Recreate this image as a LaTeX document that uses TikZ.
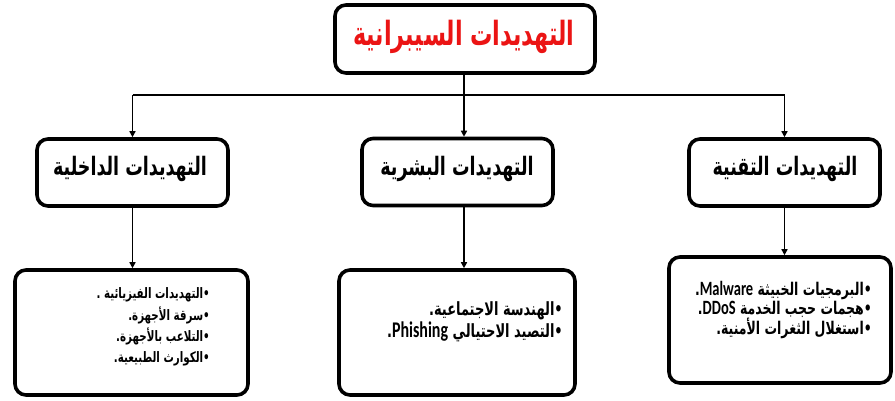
\documentclass[tikz,border=0pt]{standalone}
\usepackage{fontspec}
\usepackage{graphicx}
\TeXXeTstate=1
\newfontfamily\arabicfont[Script=Arabic]{DejaVu Sans}
\newfontfamily\latinfont{Carlito}
\usetikzlibrary{arrows.meta}
\definecolor{titlered}{RGB}{235,20,20}
\begin{document}
\begin{tikzpicture}[x=1pt,y=-1pt,
  box/.style={draw=black, line width=3.6pt, rounded corners=11pt, fill=white, inner sep=0pt},
  conn/.style={line width=1.8pt},
  arr/.style={line width=1.8pt, -{Triangle[width=6pt,length=6pt]}},
  ttl/.style={font=\arabicfont\bfseries\fontsize{23}{26}\selectfont, text=titlered, inner sep=0pt},
  sub/.style={font=\arabicfont\bfseries\fontsize{17.5}{20}\selectfont, inner sep=0pt},
  lst/.style={anchor=east, inner sep=0pt}]
\useasboundingbox (0,0) rectangle (895,400);
% boxes
\node[box, minimum width=260pt, minimum height=68pt] (top) at (465,39) {};
\node[box, minimum width=191pt, minimum height=67pt] (midL) at (132.5,172.5) {};
\node[box, minimum width=191pt, minimum height=67pt] (midC) at (457.5,172) {};
\node[box, minimum width=191pt, minimum height=67pt] (midR) at (784.5,172.5) {};
\node[box, minimum width=233pt, minimum height=125pt] (botL) at (131.5,332.5) {};
\node[box, minimum width=236pt, minimum height=125pt] (botC) at (457,332.5) {};
\node[box, minimum width=222pt, minimum height=126pt] (botR) at (780,320) {};
% titles
\node[ttl] (tTop) at (464,37) {\scalebox{0.97}[1.45]{\beginR التهديدات السيبرانية\endR}};
\node[sub] (tL) at (130,169) {\scalebox{1}[1.45]{\beginR التهديدات الداخلية\endR}};
\node[sub] (tC) at (457,169) {\scalebox{1}[1.45]{\beginR التهديدات البشرية\endR}};
\node[sub] (tR) at (785,169) {\scalebox{1}[1.45]{\beginR التهديدات التقنية\endR}};
% lists
\node[lst] (lL) at (210,327) {\scalebox{1}[1.4]{\arabicfont\bfseries\fontsize{10.3}{15}\selectfont
\vbox{\baselineskip=15.2pt \lineskiplimit=-100pt \lineskip=0pt
\halign{\hfil#\cr
\beginR •التهديدات الفيزيائية .\endR\cr
\beginR •سرقة الأجهزة.\endR\cr
\beginR •التلاعب بالأجهزة.\endR\cr
\beginR •الكوارث الطبيعية.\endR\cr}}}};
\node[lst] (lC) at (563,322) {\scalebox{1}[1.4]{\arabicfont\bfseries\fontsize{13}{15}\selectfont
\vbox{\baselineskip=15.7pt \lineskiplimit=-100pt \lineskip=0pt
\halign{\hfil#\cr
\beginR •الهندسة الاجتماعية.\endR\cr
\beginR •التصيد الاحتيالي \beginL{\latinfont\bfseries\fontsize{16}{15}\selectfont Phishing}\endL.\endR\cr}}}};
\node[lst] (lR) at (872,310) {\scalebox{1}[1.4]{\arabicfont\bfseries\fontsize{12.5}{14}\selectfont
\vbox{\baselineskip=13.6pt \lineskiplimit=-100pt \lineskip=0pt
\halign{\hfil#\cr
\beginR •البرمجيات الخبيثة \beginL{\latinfont\bfseries\fontsize{14.5}{14}\selectfont Malware}\endL.\endR\cr
\beginR •هجمات حجب الخدمة \beginL{\latinfont\bfseries\fontsize{14.5}{14}\selectfont DDoS}\endL.\endR\cr
\beginR •استغلال الثغرات الأمنية.\endR\cr}}}};
% connectors
\coordinate (hub) at (464,95);
\draw[conn] (hub |- top.south) -- (hub);
\draw[conn] (midL.north |- hub) -- (midR.north |- hub);
\draw[arr] (midL.north |- hub) -- (midL.north);
\draw[arr] (hub) -- (hub |- midC.north);
\draw[arr] (midR.north |- hub) -- (midR.north);
\draw[arr] (midL.south) -- (midL.south |- botL.north);
\draw[arr] (hub |- midC.south) -- (hub |- botC.north);
\draw[arr] (midR.south) -- (midR.south |- botR.north);
\end{tikzpicture}
\end{document}
